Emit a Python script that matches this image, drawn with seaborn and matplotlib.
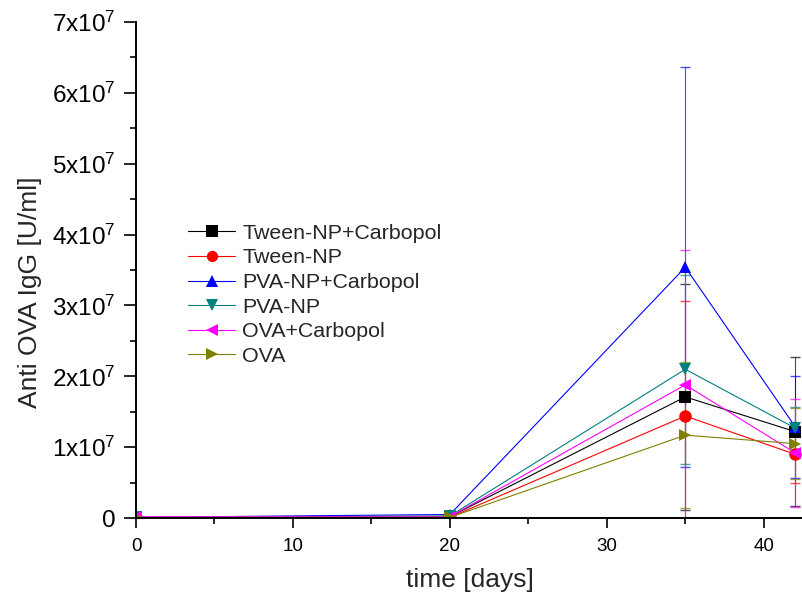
import matplotlib
matplotlib.use("Agg")
import matplotlib.pyplot as plt
import pandas as pd
import seaborn as sns
from matplotlib.ticker import FuncFormatter, MultipleLocator

days = [0, 20, 35, 42]
groups = ["Tween-NP+Carbopol", "Tween-NP", "PVA-NP+Carbopol", "PVA-NP", "OVA+Carbopol", "OVA"]

tween_carb = [0.01e7, 0.02e7, 1.71e7, 1.22e7]
tween = [0.01e7, 0.01e7, 1.44e7, 0.90e7]
pva_carb = [0.01e7, 0.05e7, 3.54e7, 1.29e7]
pva = [0.01e7, 0.03e7, 2.10e7, 1.27e7]
ova_carb = [0.02e7, 0.02e7, 1.88e7, 0.92e7]
ova = [0.01e7, 0.01e7, 1.17e7, 1.05e7]

tween_carb_err = [0, 0.01e7, 1.60e7, 1.05e7]
tween_err = [0, 0.01e7, 1.62e7, 0.40e7]
pva_carb_err = [0, 0.02e7, 2.82e7, 0.72e7]
pva_err = [0, 0.01e7, 1.33e7, 0.30e7]
ova_carb_err = [0, 0.01e7, 1.90e7, 0.76e7]
ova_err = [0, 0.01e7, 1.03e7, 0.50e7]

values = [tween_carb, tween, pva_carb, pva, ova_carb, ova]
errors = [tween_carb_err, tween_err, pva_carb_err, pva_err, ova_carb_err, ova_err]
colors = ["#000000", "#ff0000", "#0000ff", "#008080", "#ff00ff", "#808000"]
markers = ["s", "o", "^", "v", "<", ">"]

rows = []
for g, vals, errs in zip(groups, values, errors):
    for d, v, e in zip(days, vals, errs):
        rows.append({"day": d, "value": v, "err": e, "group": g})
df = pd.DataFrame(rows)

sns.set_theme(style="ticks")
plt.rcParams["font.family"] = ["Liberation Sans", "DejaVu Sans"]
plt.rcParams["mathtext.fontset"] = "custom"
plt.rcParams["mathtext.rm"] = "Liberation Sans"
plt.rcParams["mathtext.it"] = "Liberation Sans:italic"

fig = plt.figure(figsize=(8.03, 6.01), dpi=100)
ax = fig.add_axes([0.1694, 0.138, 0.8306, 0.8253])

# error bars first, lines and markers on top
for g, c in zip(groups, colors):
    sub = df[df["group"] == g]
    ax.errorbar(sub["day"], sub["value"], yerr=sub["err"], fmt="none",
                ecolor=c, elinewidth=0.8, capsize=3.5, capthick=1.0, alpha=0.7)

sns.lineplot(data=df, x="day", y="value", hue="group", style="group",
             hue_order=groups, style_order=groups,
             palette=dict(zip(groups, colors)), markers=dict(zip(groups, markers)),
             dashes=False, markersize=9, markeredgewidth=0, linewidth=0.8,
             errorbar=None, ax=ax)

ax.set_xlim(0, 42.5)
ax.set_ylim(0, 7e7)
ax.xaxis.set_major_locator(MultipleLocator(10))
ax.xaxis.set_minor_locator(MultipleLocator(5))
ax.yaxis.set_major_locator(MultipleLocator(1e7))
ax.yaxis.set_minor_locator(MultipleLocator(0.5e7))


def ylab(v, pos):
    n = int(round(v / 1e7))
    return "0" if n == 0 else f"{n}x10$^{{7}}$"


ax.yaxis.set_major_formatter(FuncFormatter(ylab))
ax.tick_params(axis="x", which="major", length=7.5, width=1.2, pad=7,
               labelsize=13.5, color="black", labelcolor="black")
ax.tick_params(axis="y", which="major", length=8.5, width=1.2, pad=6,
               labelsize=17.5, color="black", labelcolor="black")
ax.tick_params(axis="both", which="minor", length=4, width=1.2, color="black")
for s in ["left", "bottom"]:
    ax.spines[s].set_linewidth(1.4)
    ax.spines[s].set_color("black")
sns.despine(ax=ax)

ax.set_xlabel("time [days]", fontsize=19, labelpad=9)
ax.set_ylabel("Anti OVA IgG [U/ml]", fontsize=19)
ax.yaxis.set_label_coords(-0.141, 0.456)

handles, labels = ax.get_legend_handles_labels()
ax.legend(handles, labels, loc="upper left", bbox_to_anchor=(0.078, 0.593),
          frameon=False, fontsize=15.4, labelspacing=0.26, handlelength=2.2,
          handletextpad=0.33, borderpad=0, borderaxespad=0, markerscale=0.9)

fig.savefig("out.png", dpi=100)
